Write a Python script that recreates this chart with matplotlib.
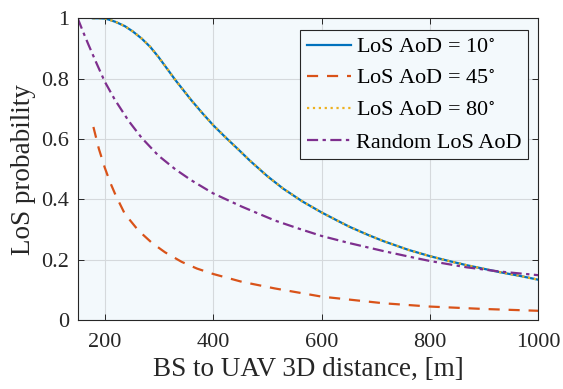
import matplotlib
matplotlib.use('Agg')
import matplotlib.pyplot as plt

plt.rcParams['font.family'] = ['Liberation Serif', 'DejaVu Serif']
plt.rcParams['mathtext.fontset'] = 'stix'

# LoS AoD = 10 deg (80 deg curve lies on top of it)
d_10 = [178, 190, 200, 207, 220, 237, 252, 268, 284, 299, 315, 330, 345, 360, 380,
        400, 422, 445, 468, 500, 529, 565, 600, 630, 652, 685, 714, 760, 800,
        835, 868, 900, 929, 965, 1000]
p_10 = [1.0, 1.0, 0.999, 0.996, 0.988, 0.974, 0.956, 0.933, 0.905, 0.872, 0.833,
        0.796, 0.762, 0.728, 0.686, 0.646, 0.607, 0.568, 0.528, 0.477, 0.436,
        0.393, 0.357, 0.329, 0.309, 0.283, 0.262, 0.233, 0.212, 0.196, 0.182,
        0.17, 0.159, 0.147, 0.134]
d_80 = d_10
p_80 = p_10

# LoS AoD = 45 deg
d_45 = [179, 189, 200, 210, 220, 237, 262, 287, 311, 342, 370, 400, 453, 514,
        600, 714, 800, 900, 1000]
p_45 = [0.64, 0.568, 0.505, 0.456, 0.414, 0.352, 0.297, 0.256, 0.225, 0.193,
        0.171, 0.153, 0.127, 0.105, 0.078, 0.056, 0.045, 0.037, 0.031]

# random LoS AoD
d_rnd = [150, 160, 170, 185, 200, 218, 244, 268, 299, 330, 360, 400, 453, 514,
         560, 600, 652, 714, 760, 800, 868, 929, 1000]
p_rnd = [1.0, 0.955, 0.912, 0.85, 0.79, 0.732, 0.66, 0.604, 0.545, 0.5, 0.463,
         0.42, 0.376, 0.33, 0.302, 0.279, 0.255, 0.229, 0.211, 0.196, 0.175,
         0.161, 0.149]

bg = '#f3f9fc'
ink = '#262626'

fig = plt.figure(figsize=(5.63, 3.89), dpi=100)
ax = fig.add_axes([0.138, 0.177, 0.818, 0.776])
ax.set_facecolor(bg)

ax.plot(d_10, p_10, '-', color='#0072BD', lw=1.6, label=r'LoS AoD = 10$^{\circ}$')
ax.plot(d_45, p_45, '--', color='#D95319', lw=1.6, dashes=(5, 4),
        label=r'LoS AoD = 45$^{\circ}$')
ax.plot(d_80, p_80, ':', color='#EDB120', lw=1.6, label=r'LoS AoD = 80$^{\circ}$')
ax.plot(d_rnd, p_rnd, '-.', color='#7E2F8E', lw=1.6, dashes=(5, 2, 1.5, 2),
        label='Random LoS AoD')

ax.set_xlim(150, 1000)
ax.set_ylim(0, 1)
ax.set_xticks([200, 400, 600, 800, 1000])
ax.set_yticks([0, 0.2, 0.4, 0.6, 0.8, 1])
ax.set_yticklabels(['0', '0.2', '0.4', '0.6', '0.8', '1'])
ax.grid(True, color='#d5d9dc', lw=0.8)
ax.set_axisbelow(True)
ax.tick_params(direction='in', top=True, right=True, labelsize=16,
               colors=ink, length=4, width=0.7)
ax.tick_params(axis='x', pad=9)
ax.tick_params(axis='y', pad=6)
for s in ax.spines.values():
    s.set_color(ink)
    s.set_linewidth(0.8)

ax.set_xlabel('BS to UAV 3D distance, [m]', fontsize=19.5, color=ink, labelpad=4)
ax.set_ylabel('LoS probability', fontsize=19.5, color=ink, labelpad=4)

leg = ax.legend(loc='upper right', bbox_to_anchor=(0.978, 0.96), fontsize=16,
                fancybox=False, framealpha=1, facecolor=bg, edgecolor=ink,
                handlelength=2.0, handletextpad=0.22, labelspacing=0.5,
                borderpad=0.3, borderaxespad=0)
leg.get_frame().set_linewidth(0.8)

fig.savefig('out.png', dpi=100)
